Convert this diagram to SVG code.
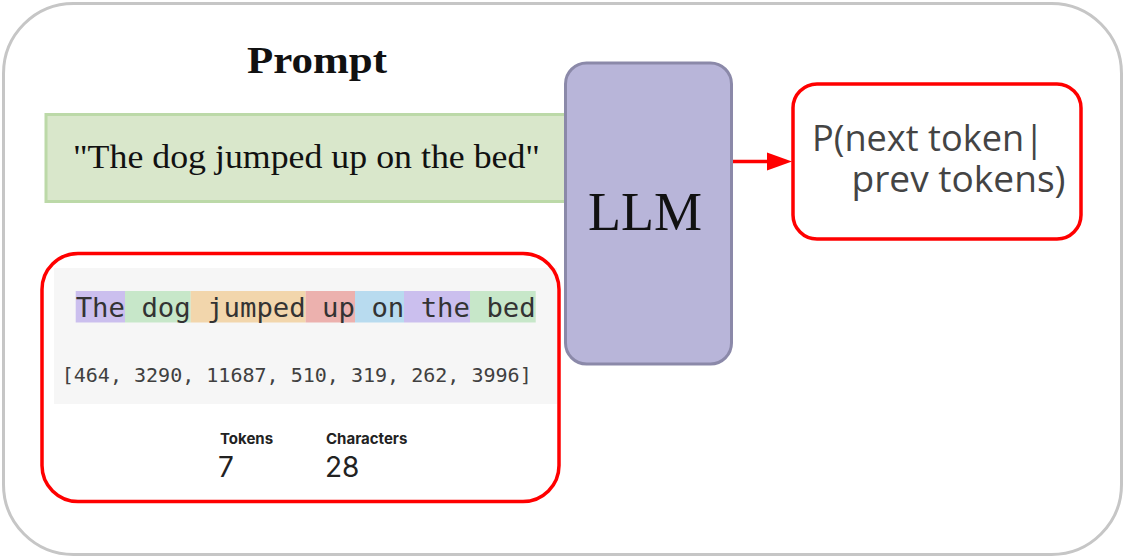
<svg xmlns="http://www.w3.org/2000/svg" width="1126" height="557" viewBox="0 0 1126 557">
<defs>
<style>
.serif{font-family:"Liberation Serif","Times New Roman",serif;fill:#111}
.mono{font-family:"DejaVu Sans Mono","Liberation Mono",monospace}
.sans{font-family:Inter,"Liberation Sans",Arial,sans-serif;fill:#222}
.open{font-family:"Open Sans","Noto Sans",sans-serif;fill:#444;font-size:36px}
.red{fill:none;stroke:#ff0000;stroke-width:3.5}
</style>
</defs>
<rect width="1126" height="557" fill="#fff"/>
<g id="frame"><rect x="3.5" y="3.5" width="1118" height="551" rx="70" fill="#fff" stroke="#c6c6c6" stroke-width="3"/></g>
<g id="prompt">
<text class="serif" x="317" y="73" font-size="37" font-weight="bold" text-anchor="middle" textLength="140" lengthAdjust="spacingAndGlyphs">Prompt</text>
<rect x="46" y="114.5" width="522" height="87" fill="#d9e7cb" stroke="#bcd9a8" stroke-width="3"/>
<text class="serif" x="73" y="168" font-size="34" textLength="467" lengthAdjust="spacingAndGlyphs">"The dog jumped up on the bed"</text>
</g>
<g id="tokenizer">
<rect x="54" y="268" width="503" height="136" fill="#f6f6f6"/>
<rect x="75.7" y="291" width="49.3" height="31.5" fill="#cbbfee"/>
<rect x="125" y="291" width="65.7" height="31.5" fill="#c7e7c9"/>
<rect x="190.7" y="291" width="115" height="31.5" fill="#f2d6ac"/>
<rect x="305.7" y="291" width="49.3" height="31.5" fill="#ecb1ae"/>
<rect x="355" y="291" width="49" height="31.5" fill="#b8dbef"/>
<rect x="404" y="291" width="66" height="31.5" fill="#cbbfee"/>
<rect x="470" y="291" width="65.7" height="31.5" fill="#c7e7c9"/>
<text class="mono" x="75.7" y="316.5" font-size="27" fill="#333" textLength="460" lengthAdjust="spacingAndGlyphs" xml:space="preserve">The dog jumped up on the bed</text>
<text class="mono" x="61.7" y="382" font-size="20" fill="#404040" textLength="470" lengthAdjust="spacingAndGlyphs" xml:space="preserve">[464, 3290, 11687, 510, 319, 262, 3996]</text>
<text class="sans" x="220" y="444" font-size="15" font-weight="bold">Tokens</text>
<text class="sans" x="218" y="477" font-size="28">7</text>
<text class="sans" x="326" y="444" font-size="15" font-weight="bold">Characters</text>
<text class="sans" x="325" y="477" font-size="28">28</text>
<rect class="red" x="42" y="253.5" width="517" height="248" rx="36"/>
</g>
<g id="llm">
<rect x="565.5" y="63" width="166" height="301" rx="21" fill="#b8b5d9" stroke="#8b89a9" stroke-width="3"/>
<text class="serif" x="645" y="230" font-size="54" text-anchor="middle">LLM</text>
</g>
<g id="output">
<rect class="red" x="793" y="84" width="288" height="155" rx="24" fill="#fff"/>
<text class="open" x="812" y="150.5" textLength="232" lengthAdjust="spacingAndGlyphs">P(next token|</text>
<text class="open" x="851.5" y="192" textLength="214" lengthAdjust="spacingAndGlyphs">prev tokens)</text>
</g>
<g id="connectors">
<line x1="733" y1="161.5" x2="770" y2="161.5" stroke="#ff0000" stroke-width="3.5"/>
<polygon points="767,152.5 792,161.5 767,170.5" fill="#ff0000"/>
</g>
</svg>
